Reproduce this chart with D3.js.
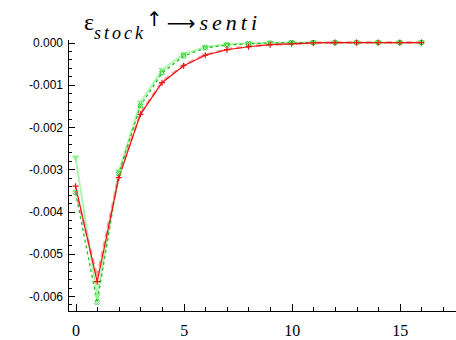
<!DOCTYPE html>
<meta charset="utf-8">
<body style="margin:0">
<script src="https://cdn.jsdelivr.net/npm/d3@7/dist/d3.min.js"></script>
<script>

// horizon 0..16
var horizon = d3.range(0, 17);

// red solid with + markers
var redSolid = [-0.00340, -0.00566, -0.00320, -0.00170, -0.00095, -0.00055, -0.00030, -0.00017, -0.00010, -0.00005, -0.00003, -0.00001, 0, 0, 0, 0, 0];
// light red dashed, close to the red one
var redLight = [-0.00350, -0.00555, -0.00315, -0.00168, -0.00093, -0.00053, -0.00029, -0.00016, -0.00009, -0.00005, -0.00003, -0.00001, 0, 0, 0, 0, 0];
// dark green dashed with x markers
var greenDash = [-0.00355, -0.00615, -0.00310, -0.00150, -0.00072, -0.00032, -0.00013, -0.00006, -0.00003, -0.00001, 0, 0, 0, 0, 0, 0, 0];
// light green solid with triangle markers
var greenLight = [-0.00272, -0.00600, -0.00305, -0.00142, -0.00065, -0.00027, -0.00010, -0.00004, -0.00002, -0.00001, 0, 0, 0, 0, 0, 0, 0];

var yTicks = [0, -0.001, -0.002, -0.003, -0.004, -0.005, -0.006];
var xTicks = [0, 5, 10, 15];

var W = 456, H = 340;
var m = {left: 68, right: 456, top: 40, bottom: 311};

var svg = d3.select("body").append("svg")
    .attr("width", W)
    .attr("height", H);

var x = d3.scaleLinear().domain([-0.35, 17.6]).range([m.left, m.right]);
var y = d3.scaleLinear().domain([0.00006, -0.006355]).range([m.top, m.bottom]);

// minor ticks
var yMinor = d3.range(0, -0.00635, -0.0002);
var xMinor = d3.range(0, 17.6, 1);

svg.append("g")
    .attr("transform", "translate(" + m.left + ",0)")
    .call(d3.axisRight(y).tickValues(yMinor).tickSize(4).tickFormat(""))
    .select(".domain").remove();

svg.append("g")
    .attr("transform", "translate(0," + m.bottom + ")")
    .call(d3.axisTop(x).tickValues(xMinor).tickSize(4).tickFormat(""))
    .select(".domain").remove();

// y axis
var ya = svg.append("g")
    .attr("transform", "translate(" + m.left + ",0)")
    .call(d3.axisRight(y).tickValues(yTicks).tickSize(7).tickSizeOuter(0)
      .tickFormat(d3.format(".3f")));
ya.attr("font-family", "Arial").attr("font-size", 12);
ya.selectAll("text")
    .attr("x", -5).attr("text-anchor", "end").attr("dy", "0.35em").attr("fill", "#000")
    .text(function(d) { return d3.format(".3f")(d).replace("−", "-"); });
ya.select(".domain").attr("d", "M0.5," + m.top + "V" + (m.bottom + 0.5));

// x axis
var xa = svg.append("g")
    .attr("transform", "translate(0," + m.bottom + ")")
    .call(d3.axisTop(x).tickValues(xTicks).tickSize(7).tickSizeOuter(0).tickFormat(d3.format("d")));
xa.attr("font-family", "Times New Roman").attr("font-size", 16);
xa.selectAll("text").attr("y", 19).attr("dy", "0.35em").attr("fill", "#000");
xa.select(".domain").attr("d", "M" + m.left + ",0.5H" + m.right);

svg.selectAll(".tick line, .domain").attr("stroke", "#000").attr("shape-rendering", "crispEdges");

var line = d3.line()
    .x(function(d, i) { return x(horizon[i]); })
    .y(function(d) { return y(d); });

var plot = svg.append("g");

plot.append("path").datum(greenLight)
    .attr("fill", "none").attr("stroke", "#a6f7a6").attr("stroke-width", 1.8)
    .attr("d", line);

plot.append("path").datum(redLight)
    .attr("fill", "none").attr("stroke", "#f7a0a0").attr("stroke-width", 2.5)
    .attr("stroke-dasharray", "6,4")
    .attr("d", line);

plot.append("path").datum(greenDash)
    .attr("fill", "none").attr("stroke", "#22c022").attr("stroke-width", 1.3)
    .attr("stroke-dasharray", "3,3")
    .attr("d", line);

plot.append("path").datum(redSolid)
    .attr("fill", "none").attr("stroke", "#ee1111").attr("stroke-width", 1.2)
    .attr("d", line);

// markers
plot.selectAll(".tri").data(greenLight).enter().append("path")
    .attr("class", "tri")
    .attr("transform", function(d, i) { return "translate(" + x(horizon[i]) + "," + y(d) + ") rotate(180)"; })
    .attr("d", d3.symbol().type(d3.symbolTriangle).size(22))
    .attr("fill", "#8ef58e");

plot.selectAll(".xm").data(greenDash).enter().append("path")
    .attr("class", "xm")
    .attr("transform", function(d, i) { return "translate(" + x(horizon[i]) + "," + y(d) + ") rotate(45)"; })
    .attr("d", d3.symbol().type(d3.symbolCross).size(14))
    .attr("fill", "none").attr("stroke", "#22c022").attr("stroke-width", 0.9);

plot.selectAll(".pm").data(redSolid).enter().append("path")
    .attr("class", "pm")
    .attr("transform", function(d, i) { return "translate(" + x(horizon[i]) + "," + y(d) + ")"; })
    .attr("d", "M-3,0H3M0,-3V3")
    .attr("stroke", "#ee1111").attr("stroke-width", 1.2);

// title
var t = svg.append("text").attr("x", 84).attr("y", 30).attr("fill", "#000")
    .attr("font-family", "Times New Roman").attr("font-style", "italic");
t.append("tspan").attr("font-size", 24).attr("font-style", "normal").text("ε");
t.append("tspan").attr("font-size", 18).attr("dy", 9).attr("letter-spacing", 3).text("stock");
t.append("tspan").attr("font-size", 20).attr("dy", -13).attr("font-style", "normal")
    .attr("font-family", "DejaVu Sans").text("↑");
t.append("tspan").attr("font-size", 20).attr("dy", 4).attr("dx", 4).attr("font-style", "normal")
    .attr("font-family", "DejaVu Sans").text("⟶");
t.append("tspan").attr("font-size", 22).attr("dx", 4).attr("letter-spacing", 4).text("senti");

</script>
</body>
